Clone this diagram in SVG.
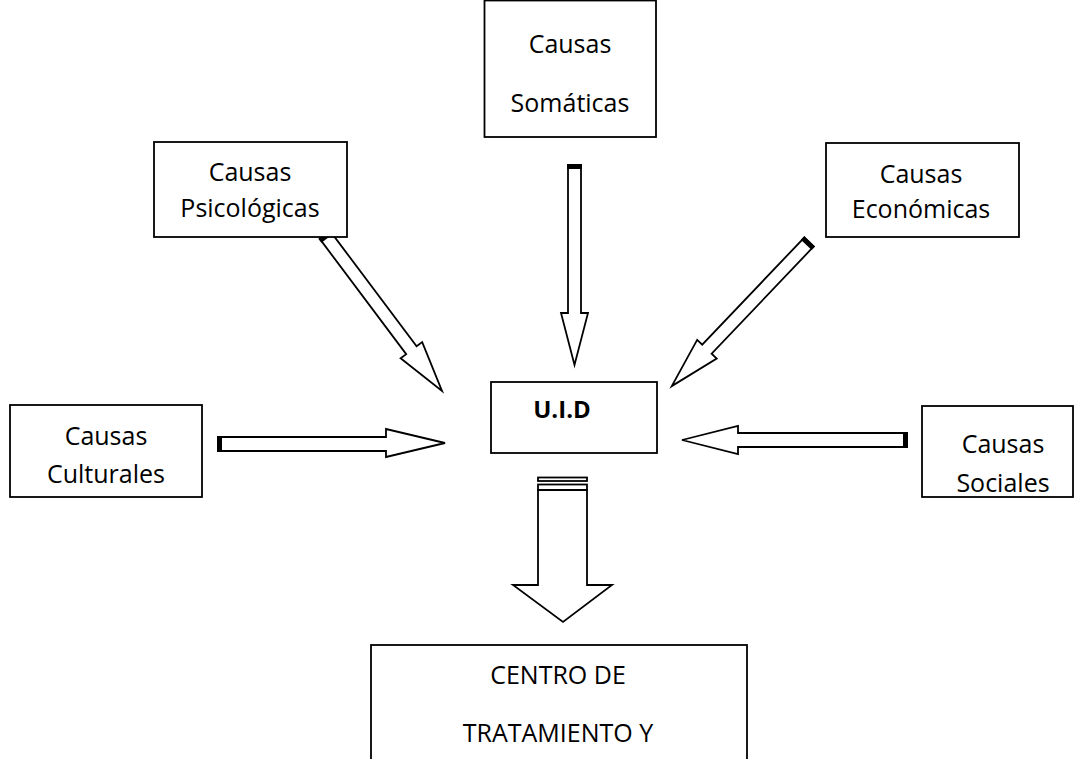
<svg xmlns="http://www.w3.org/2000/svg" width="1076" height="759" viewBox="0 0 1076 759">
  <style>
    .box { fill: #ffffff; stroke: #000000; stroke-width: 1.8; }
    .lbl { font-family: "Open Sans", "Liberation Sans", sans-serif; font-size: 25px; fill: #000000; text-anchor: middle; }
    .bold { font-weight: bold; font-size: 24px; }
    .arrow { fill: #ffffff; stroke: #000000; stroke-width: 1.8; stroke-linejoin: miter; }
    .cap { fill: #000000; }
  </style>
  <rect width="1076" height="759" fill="#ffffff"/>

  <!-- connectors: block arrows pointing at the central node -->
  <g id="connectors">
    <!-- from Causas Somáticas -->
    <g transform="translate(574.5,165) rotate(90)">
      <path class="arrow" d="M0,-6.5 H148 V-13.5 L200,0 L148,13.5 V6.5 H0 Z"/>
      <rect class="cap" x="-1" y="-7.5" width="5" height="15"/>
    </g>
    <!-- from Causas Psicológicas -->
    <g transform="translate(325,235) rotate(53.13)">
      <path class="arrow" d="M0,-6.5 H144 V-13.5 L195,0 L144,13.5 V6.5 H0 Z"/>
      <rect class="cap" x="-1" y="-7.5" width="5" height="15"/>
    </g>
    <!-- from Causas Económicas -->
    <g transform="translate(809,242) rotate(133.6)">
      <path class="arrow" d="M0,-6.5 H148 V-13.5 L199,0 L148,13.5 V6.5 H0 Z"/>
      <rect class="cap" x="-1" y="-7.5" width="5" height="15"/>
    </g>
    <!-- from Causas Culturales -->
    <g transform="translate(218,444)">
      <path class="arrow" d="M0,-7 H168 V-15 L227,-1 L168,13 V7 H0 Z"/>
      <rect class="cap" x="-1" y="-8" width="5" height="16"/>
    </g>
    <!-- from Causas Sociales -->
    <g transform="translate(907,440) rotate(180)">
      <path class="arrow" d="M0,-7 H169 V-14 L225,0 L169,14 V7 H0 Z"/>
      <rect class="cap" x="-1" y="-8" width="5" height="16"/>
    </g>
    <!-- striped arrow down to the treatment centre -->
    <g>
      <rect class="arrow" x="538" y="477.5" width="49" height="3.5"/>
      <rect class="arrow" x="538" y="484.5" width="49" height="5.5"/>
      <path class="arrow" d="M538,490 H587 V585 H612 L563,622 L513,585 H538 Z"/>
    </g>
  </g>

  <g id="somaticas">
    <rect class="box" x="484.5" y="0.5" width="171.5" height="136.5"/>
    <text class="lbl" x="570" y="53">Causas</text>
    <text class="lbl" x="570" y="112">Somáticas</text>
  </g>

  <g id="psicologicas">
    <rect class="box" x="154" y="142" width="193" height="95"/>
    <text class="lbl" x="250" y="181">Causas</text>
    <text class="lbl" x="250" y="217">Psicológicas</text>
  </g>

  <g id="economicas">
    <rect class="box" x="826" y="143" width="193" height="94"/>
    <text class="lbl" x="921" y="183">Causas</text>
    <text class="lbl" x="921" y="218">Económicas</text>
  </g>

  <g id="culturales">
    <rect class="box" x="10" y="405" width="192" height="92"/>
    <text class="lbl" x="106" y="445">Causas</text>
    <text class="lbl" x="106" y="483">Culturales</text>
  </g>

  <g id="uid">
    <rect class="box" x="491" y="382" width="166" height="71"/>
    <text class="lbl bold" x="562" y="418">U.I.D</text>
  </g>

  <g id="sociales">
    <rect class="box" x="922" y="406" width="151" height="91"/>
    <text class="lbl" x="1003" y="453">Causas</text>
    <text class="lbl" x="1003" y="492">Sociales</text>
  </g>

  <g id="centro">
    <rect class="box" x="371" y="645" width="376" height="130"/>
    <text class="lbl" x="558" y="684">CENTRO DE</text>
    <text class="lbl" x="558" y="742">TRATAMIENTO Y</text>
  </g>
</svg>
